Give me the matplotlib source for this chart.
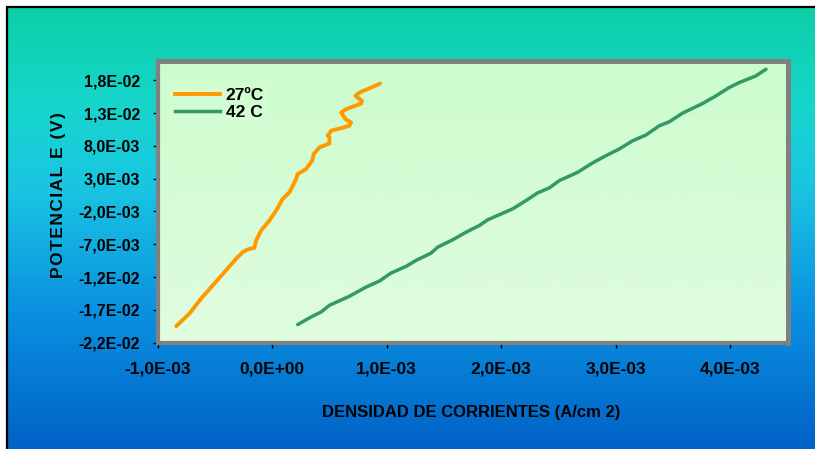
import numpy as np
import matplotlib
matplotlib.use('Agg')
import matplotlib.pyplot as plt
from matplotlib.colors import LinearSegmentedColormap
from matplotlib.lines import Line2D

# ── Data ─────────────────────────────────────────────────────────────────────

x_27 = [-0.000837, -0.000721, -0.000619, -0.000517, -0.000415, -0.000313,
        -0.000256, -0.000212, -0.000154, -0.000139, -0.000095, -0.000023,
        0.000036, 0.000093, 0.000152, 0.000204, 0.000224, 0.000298,
        0.000350, 0.000364, 0.000414, 0.000501, 0.000501, 0.000486,
        0.000516, 0.000603, 0.000675, 0.000690, 0.000641, 0.000603,
        0.000647, 0.000778, 0.000786, 0.000728, 0.000763, 0.000879, 0.000943]
y_27 = [-0.01949, -0.01756, -0.01528, -0.01326, -0.01124, -0.00920,
        -0.00820, -0.00779, -0.00753, -0.00642, -0.00490, -0.00338,
        -0.00186, -0.00009, 0.00092, 0.00270, 0.00371, 0.00447,
        0.00574, 0.00675, 0.00776, 0.00836, 0.00928, 0.00953,
        0.01030, 0.01071, 0.01105, 0.01156, 0.01207, 0.01308,
        0.01359, 0.01444, 0.01485, 0.01561, 0.01612, 0.01698, 0.01748]

x_42 = [0.000224, 0.000341, 0.000428, 0.000501, 0.000675, 0.000821,
        0.000937, 0.001039, 0.001170, 0.001257, 0.001388, 0.001446,
        0.001577, 0.001694, 0.001810, 0.001882, 0.002100, 0.002217,
        0.002319, 0.002421, 0.002508, 0.002668, 0.002798, 0.002915,
        0.003031, 0.003148, 0.003264, 0.003380, 0.003468, 0.003584,
        0.003758, 0.003875, 0.003991, 0.004079, 0.004224, 0.004312]
y_42 = [-0.01924, -0.01808, -0.01732, -0.01630, -0.01493, -0.01352,
        -0.01261, -0.01139, -0.01037, -0.00946, -0.00835, -0.00744,
        -0.00632, -0.00516, -0.00414, -0.00328, -0.00161, -0.00034,
        0.00083, 0.00159, 0.00270, 0.00396, 0.00539, 0.00650,
        0.00751, 0.00877, 0.00964, 0.01105, 0.01166, 0.01298,
        0.01444, 0.01561, 0.01688, 0.01764, 0.01865, 0.01967]

series_labels = ["27ºC", "42 C"]

x_ticks = [-0.001, 0.0, 0.001, 0.002, 0.003, 0.004]
x_tick_labels = ["-1,0E-03", "0,0E+00", "1,0E-03", "2,0E-03", "3,0E-03", "4,0E-03"]
y_ticks = [-0.022, -0.017, -0.012, -0.007, -0.002, 0.003, 0.008, 0.013, 0.018]
y_tick_labels = ["-2,2E-02", "-1,7E-02", "-1,2E-02", "-7,0E-03", "-2,0E-03",
                 "3,0E-03", "8,0E-03", "1,3E-02", "1,8E-02"]

x_title = "DENSIDAD DE CORRIENTES (A/cm 2)"
y_title = "POTENCIAL E (V)"

# ── Figure ───────────────────────────────────────────────────────────────────

plt.rcParams['font.family'] = ['Liberation Sans', 'DejaVu Sans']
plt.rcParams['font.weight'] = 'bold'

W, H = 815, 449
fig = plt.figure(figsize=(W / 100, H / 100), dpi=100)
fig.patch.set_facecolor('white')

# background gradient (teal at top -> blue at bottom) with black frame
bg = fig.add_axes([0, 0, 1, 1], zorder=-1)
bg.set_xlim(0, W)
bg.set_ylim(H, 0)
bg.axis('off')
bg_cmap = LinearSegmentedColormap.from_list(
    'bg', [(0.0, '#0ccfa6'), (0.22, '#16d6cc'), (0.40, '#1ac6e2'),
           (0.70, '#0a8fe0'), (1.0, '#0062c6')])
grad = np.linspace(0, 1, 256).reshape(-1, 1)
bg.imshow(grad, cmap=bg_cmap, aspect='auto', extent=[7, W, H, 7])
bg.plot([6.5, 6.5, W + 5], [H + 5, 6.5, 6.5], color='black', lw=1.6,
        solid_joinstyle='miter')

# plot area
left, right, top, bottom = 157.5, 787.5, 60.5, 342.7
ax = fig.add_axes([left / W, 1 - bottom / H, (right - left) / W, (bottom - top) / H])
ax.set_xlim(-0.001, 0.0045)
ax.set_ylim(-0.022, 0.021)

pa_cmap = LinearSegmentedColormap.from_list('pa', ['#ccfccc', '#e0fce0'])
ax.imshow(grad, cmap=pa_cmap, aspect='auto', extent=[0, 1, 0, 1],
          transform=ax.transAxes, zorder=0)

ax.plot(x_27, y_27, color='#ff9900', lw=2.8, solid_capstyle='round',
        solid_joinstyle='round', zorder=3)
ax.plot(x_42, y_42, color='#339966', lw=2.5, solid_capstyle='round',
        solid_joinstyle='round', zorder=3)

for side in ['left', 'right', 'top', 'bottom']:
    ax.spines[side].set_color('#808080')
    ax.spines[side].set_linewidth(3.0)
ax.spines['right'].set_linewidth(3.6)
ax.spines['top'].set_linewidth(3.6)

ax.set_xticks(x_ticks)
ax.set_xticklabels(x_tick_labels, fontsize=12.5, fontweight='bold')
ax.set_yticks(y_ticks)
ax.set_yticklabels(y_tick_labels, fontsize=11.5, fontweight='bold')
ax.tick_params(axis='x', direction='out', length=3.5, width=1, color='black', pad=10)
ax.tick_params(axis='y', direction='out', length=3.5, width=1, color='black', pad=9)

# legend
handles = [Line2D([], [], color='#ff9900', lw=2.8),
           Line2D([], [], color='#339966', lw=2.5)]
leg = ax.legend(handles, series_labels, loc='upper left',
                bbox_to_anchor=(170 / W, 1 - 83 / H), bbox_transform=fig.transFigure,
                prop={'size': 12.5, 'weight': 'bold'}, frameon=True, fancybox=False,
                handlelength=2.6, handletextpad=0.3, labelspacing=0.1,
                borderpad=0.3, borderaxespad=0)
leg.get_frame().set_facecolor('#d4fcd4')
leg.get_frame().set_edgecolor('none')

# axis titles (y title is letter-spaced in the original)
spaced = '\u200a'.join(y_title)
fig.text(58 / W, 1 - 195 / H, spaced, rotation=90, ha='center', va='center',
         fontsize=12.5, fontweight='bold')
fig.text(471.5 / W, 1 - 413 / H, x_title, ha='center', va='center',
         fontsize=12, fontweight='bold')

fig.savefig('out.png', dpi=100)
